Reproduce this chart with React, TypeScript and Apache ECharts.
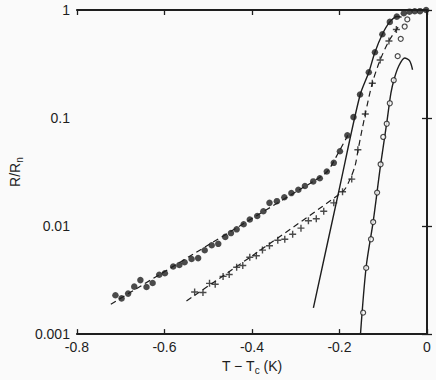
import { useEffect, useRef } from 'react';
import * as echarts from 'echarts';

// Filled circles
const filledT = [-0.712, -0.698, -0.683, -0.669, -0.655, -0.641, -0.627, -0.612, -0.599, -0.58, -0.566, -0.554, -0.538, -0.523, -0.508, -0.492, -0.477, -0.461, -0.448, -0.435, -0.419, -0.405, -0.388, -0.374, -0.36, -0.343, -0.326, -0.31, -0.294, -0.279, -0.26, -0.245, -0.229, -0.213, -0.199, -0.182, -0.168, -0.153, -0.133, -0.119, -0.102, -0.085, -0.069, -0.053, -0.04, -0.028, -0.016, -0.002];
const filledR = [0.00229, 0.00214, 0.00237, 0.00275, 0.00316, 0.00273, 0.00297, 0.00354, 0.00366, 0.00422, 0.00436, 0.00462, 0.00496, 0.00505, 0.00598, 0.00665, 0.00685, 0.00794, 0.00861, 0.00933, 0.0104, 0.0115, 0.0124, 0.0137, 0.0164, 0.017, 0.0185, 0.0202, 0.0217, 0.0235, 0.0259, 0.0277, 0.032, 0.0385, 0.0493, 0.0691, 0.102, 0.165, 0.265, 0.406, 0.597, 0.776, 0.868, 0.933, 0.965, 0.973, 0.975, 1.0];

// Crosses
const crossT = [-0.531, -0.512, -0.497, -0.484, -0.466, -0.452, -0.435, -0.421, -0.405, -0.39, -0.376, -0.36, -0.341, -0.325, -0.307, -0.288, -0.271, -0.253, -0.236, -0.213, -0.193, -0.172, -0.158, -0.141, -0.125, -0.107, -0.087, -0.07];
const crossR = [0.00245, 0.00243, 0.00295, 0.00289, 0.00342, 0.00356, 0.00416, 0.00431, 0.00514, 0.00532, 0.00599, 0.00657, 0.0074, 0.00755, 0.00839, 0.00957, 0.0112, 0.0117, 0.0137, 0.0164, 0.0208, 0.0272, 0.0509, 0.109, 0.21, 0.345, 0.517, 0.659];

// Open circles
const openT = [-0.146, -0.139, -0.128, -0.123, -0.114, -0.106, -0.1, -0.092, -0.085, -0.076, -0.067, -0.06, -0.051, -0.045];
const openR = [0.00158, 0.0041, 0.00755, 0.0109, 0.0204, 0.0373, 0.0668, 0.0885, 0.137, 0.224, 0.374, 0.541, 0.703, 0.818];

// Fitted curves
const dashFilledT = [-0.7225, -0.5, -0.2923, -0.26, -0.228, -0.2005, -0.181];
const dashFilledR = [0.00189, 0.00667, 0.0216, 0.0259, 0.032, 0.0494, 0.0691];

const solidFilledT = [-0.2596, -0.2005, -0.1536, -0.133, -0.119, -0.102, -0.085, -0.068, -0.058];
const solidFilledR = [0.00175, 0.022, 0.16, 0.265, 0.406, 0.597, 0.776, 0.87, 0.86];

const dashCrossT = [-0.5497, -0.193, -0.175, -0.164, -0.157, -0.141, -0.125, -0.107, -0.087, -0.07, -0.062];
const dashCrossR = [0.00203, 0.0208, 0.0277, 0.0367, 0.0522, 0.109, 0.21, 0.345, 0.517, 0.659, 0.73];

const openLineT = [-0.152, -0.139, -0.123, -0.106, -0.092, -0.0825, -0.075, -0.065, -0.051, -0.04, -0.033];
const openLineR = [0.001, 0.0042, 0.011, 0.037, 0.09, 0.17, 0.23, 0.3, 0.36, 0.34, 0.28];

const yTickLabels = ['0.001', '0.01', '0.1', '1'];

const zip = (a: number[], b: number[]) => a.map((v, i) => [v, b[i]]);

const INK = '#1e1e1e';
const FONT = 'Liberation Sans, Arial, sans-serif';

export default function App() {
  const ref = useRef<HTMLDivElement>(null);
  useEffect(() => {
    const chart = echarts.init(ref.current!, null, { renderer: 'svg' });
    const axisLine = { show: true, lineStyle: { color: INK, width: 2 } };
    const tick = { show: true, inside: true, length: 5, lineStyle: { color: INK, width: 1.3 } };
    const xBase = { type: 'value', min: -0.8, max: 0, interval: 0.2, splitLine: { show: false }, axisLine, axisTick: tick };
    const yBase = { type: 'log', logBase: 10, min: 0.001, max: 1, splitLine: { show: false }, minorTick: { show: false }, axisLine, axisTick: tick };
    chart.setOption({
      animation: false,
      backgroundColor: '#fafafa',
      grid: { left: 52, right: 9, top: 10, bottom: 42 },
      xAxis: [
        {
          ...xBase,
          position: 'bottom',
          axisLabel: {
            color: INK, fontSize: 14, fontFamily: FONT, margin: 6,
            formatter: (v: number) => { const r = Math.round(v * 10) / 10; return r === 0 ? '0' : r.toFixed(1); },
          },
          name: '{a|T − T}{s|c}{a| (K)}',
          nameLocation: 'middle',
          nameGap: 22,
          nameTextStyle: {
            color: INK, fontFamily: FONT,
            rich: { a: { fontSize: 14, fontFamily: FONT, color: INK }, s: { fontSize: 10, fontFamily: FONT, color: INK, padding: [8, 0, 0, 0] } },
          },
        },
        { ...xBase, position: 'top', axisLabel: { show: false } },
      ],
      yAxis: [
        {
          ...yBase,
          position: 'left',
          axisLabel: {
            color: INK, fontSize: 14, fontFamily: FONT, margin: 7,
            formatter: (v: number) => yTickLabels[Math.round(Math.log10(v)) + 3] ?? '',
          },
          name: '{a|R/R}{s|n}',
          nameLocation: 'middle',
          nameGap: 30,
          nameTextStyle: {
            color: INK, fontFamily: FONT,
            rich: { a: { fontSize: 14, fontFamily: FONT, color: INK }, s: { fontSize: 10, fontFamily: FONT, color: INK, padding: [8, 0, 0, 0] } },
          },
        },
        { ...yBase, position: 'right', axisLabel: { show: false } },
      ],
      series: [
        { type: 'line', data: zip(dashFilledT, dashFilledR), showSymbol: false, symbol: 'none', smooth: 0.3, lineStyle: { color: INK, width: 1.2, type: [6, 4] }, z: 2 },
        { type: 'line', data: zip(solidFilledT, solidFilledR), showSymbol: false, symbol: 'none', smooth: 0.3, lineStyle: { color: INK, width: 1.4 }, z: 2 },
        { type: 'line', data: zip(dashCrossT, dashCrossR), showSymbol: false, symbol: 'none', smooth: 0.3, lineStyle: { color: INK, width: 1.2, type: [6, 4] }, z: 2 },
        { type: 'line', data: zip(openLineT, openLineR), showSymbol: false, symbol: 'none', smooth: 0.3, lineStyle: { color: INK, width: 1.4 }, z: 2 },
        { type: 'scatter', data: zip(filledT, filledR), symbol: 'circle', symbolSize: 6.5, clip: false, itemStyle: { color: INK }, z: 3 },
        { type: 'scatter', data: zip(crossT, crossR), symbol: 'path://M4,0H6V4H10V6H6V10H4V6H0V4H4Z', symbolSize: 7, clip: false, itemStyle: { color: INK }, z: 3 },
        { type: 'scatter', data: zip(openT, openR), symbol: 'circle', symbolSize: 5, clip: false, itemStyle: { color: '#fafafa', borderColor: INK, borderWidth: 1.2 }, z: 3 },
      ],
    });
    return () => chart.dispose();
  }, []);
  return <div ref={ref} style={{ position: 'absolute', left: 0, top: 0, width: 436, height: 380, background: '#fafafa' }} />;
}
